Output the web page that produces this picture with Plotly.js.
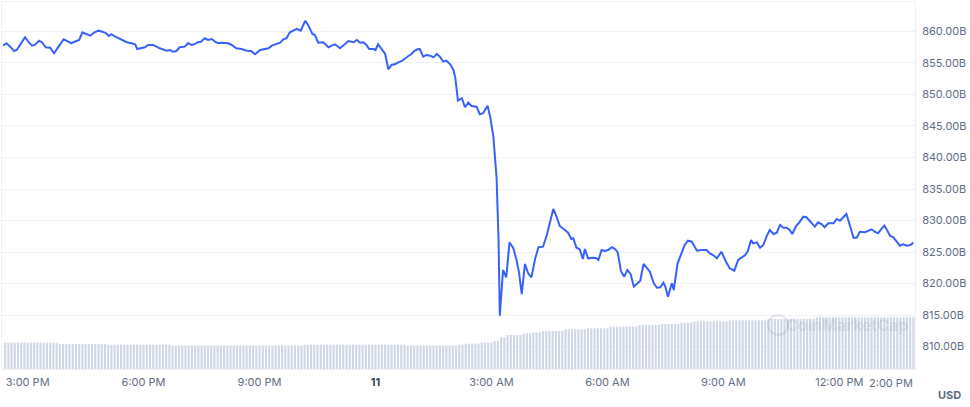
<!DOCTYPE html>
<html>
<head>
<meta charset="utf-8">
<script src="https://cdn.plot.ly/plotly-3.0.1.min.js"></script>
<style>
html,body{margin:0;padding:0;background:#fff;}
#chart{width:970px;height:407px;}
</style>
</head>
<body>
<div id="chart"></div>
<script>
// Market cap (billions USD)
const timesDay10 = ['14:22','14:27','14:33','14:39','14:43','14:49','14:56','15:01','15:07','15:11','15:18','15:22','15:28','15:35','15:41','15:48','15:56','16:03','16:08','16:13','16:20','16:25','16:31','16:37','16:43','16:50','16:56','17:02','17:06','17:10','17:16','17:21','17:28','17:34','17:41','17:47','17:50','17:57','18:02','18:07','18:15','18:20','18:25','18:36','18:41','18:45','18:51','18:56','19:04','19:09','19:15','19:20','19:24','19:29','19:35','19:40','19:46','19:51','19:56','20:01','20:11','20:17','20:24','20:32','20:40','20:47','20:53','21:01','21:08','21:14','21:19','21:27','21:32','21:37','21:42','21:47','21:52','21:58','22:04','22:11','22:16','22:22','22:26','22:31','22:39','22:47','22:52','22:57','23:05','23:13','23:18','23:26','23:31','23:36','23:41','23:46','23:50','23:57'];
const valuesDay10 = [857.75,858.13,857.59,856.90,857.06,857.97,859.08,858.38,857.75,857.86,858.54,858.29,857.49,857.43,856.54,857.59,858.76,858.38,858.13,858.38,858.65,859.87,859.60,859.33,859.81,860.13,859.97,859.71,859.29,859.56,859.17,858.92,858.49,858.29,858.13,857.97,857.22,857.43,857.49,857.86,857.86,857.59,857.33,856.95,857.06,856.79,856.90,857.49,857.59,858.13,857.86,858.02,858.29,858.38,858.92,858.65,858.81,858.38,858.13,858.22,858.13,857.86,857.33,857.22,856.95,856.90,856.38,857.06,857.22,857.33,857.75,857.97,858.22,858.76,858.92,859.87,860.08,860.40,860.13,861.71,860.92,859.60,859.44,858.22,858.29,857.49,857.75,857.97,857.33,858.13,858.49,858.29,858.65,858.22,858.29,857.86,857.22,857.22];

const timesDay11 = ['00:00','00:04','00:10','00:15','00:20','00:25','00:31','00:35','00:41','00:46','00:51','00:56','01:00','01:05','01:09','01:14','01:19','01:25','01:30','01:35','01:40','01:45','01:50','01:56','02:01','02:04','02:06','02:08','02:14','02:19','02:24','02:29','02:37','02:42','02:47','02:54','02:58','03:03','03:08','03:11','03:13','03:18','03:23','03:28','03:34','03:39','03:43','03:47','03:52','03:57','04:02','04:08','04:13','04:20','04:26','04:31','04:36','04:41','04:46','04:54','04:59','05:04','05:07','05:12','05:17','05:22','05:25','05:30','05:38','05:43','05:46','05:51','05:56','06:01','06:07','06:12','06:16','06:21','06:26','06:31','06:36','06:41','06:46','06:51','06:56','07:01','07:06','07:12','07:17','07:22','07:27','07:30','07:34','07:40','07:43','07:49','07:55','08:00','08:05','08:11','08:19','08:26','08:34','08:39','08:44','08:50','08:57','09:04','09:10','09:17','09:23','09:29','09:34','09:38','09:43','09:46','09:52','09:57','10:02','10:07','10:12','10:18','10:23','10:28','10:33','10:38','10:43','10:47','10:53','10:58','11:04','11:09','11:14','11:22','11:27','11:33','11:37','11:43','11:51','11:56','12:01','12:06','12:11','12:17','12:22','12:27','12:32','12:40','12:45','12:50','12:55','13:00','13:06','13:10','13:14','13:19','13:24','13:29','13:34','13:39','13:45','13:50','13:55'];
const valuesDay11 = [857.06,857.97,857.22,856.43,854.00,854.68,854.84,855.11,855.32,855.75,856.11,856.43,856.90,857.17,857.22,856.00,856.27,856.16,855.90,856.43,856.00,855.21,855.37,854.79,853.89,852.57,850.19,849.02,849.40,847.97,848.70,848.17,848.06,846.86,847.02,848.22,846.48,843.30,836.70,826.90,814.89,822.14,820.98,826.54,825.59,823.73,821.62,818.33,823.10,821.62,820.98,824.00,825.75,825.84,827.70,829.56,831.83,830.60,829.13,828.49,828.06,827.06,827.17,825.68,825.43,823.89,825.48,824.00,824.10,824.00,823.73,825.32,825.16,825.32,825.75,825.48,824.95,821.98,821.08,822.14,821.51,819.49,819.92,820.44,823.10,822.57,821.87,820.03,819.33,819.40,820.13,819.49,817.90,820.03,818.97,823.21,824.79,826.11,826.79,826.63,825.21,825.32,825.32,824.79,824.52,824.00,825.05,823.46,822.41,822.03,823.73,824.16,824.52,825.16,826.90,826.38,826.54,825.68,826.11,827.43,828.49,827.86,828.06,829.29,828.86,828.86,828.49,827.86,829.17,829.71,830.60,830.51,829.92,829.02,829.71,829.40,828.92,829.56,829.56,830.24,829.97,830.44,831.03,829.02,827.27,827.27,828.22,828.13,828.38,828.60,828.22,827.97,828.76,829.17,828.49,827.54,827.33,826.63,826.00,826.22,826.00,826.11,826.48];

// 24h volume bars (billions USD), one every 5 minutes from 14:25 on the 10th
const volumeStart = '2022-11-10T14:25:00';
const volumeValues = [
28.7,28.7,28.7,28.7,28.7,28.7,28.7,28.7,28.7,28.7,28.7,28.7,28.7,28.7,28.7,28.7,28.7,
27.2,27.2,27.2,27.2,27.2,27.2,27.2,27.2,27.2,27.2,27.2,27.2,27.2,27.2,27.2,
26.5,26.5,26.5,26.5,26.5,26.5,26.5,26.5,26.5,26.5,26.5,26.5,26.5,26.5,26.5,26.5,26.5,26.5,26.5,26.5,
25.4,25.4,25.4,25.4,25.4,25.4,25.4,25.4,25.4,25.4,25.4,25.4,25.4,25.4,25.4,25.4,25.4,25.4,25.4,25.4,
25.4,25.4,25.4,25.4,25.4,25.4,25.4,25.4,25.4,25.4,25.4,25.4,25.4,25.4,25.4,25.4,25.4,25.4,25.4,25.4,25.4,
26.5,26.5,26.5,26.5,26.5,26.5,26.5,26.5,26.5,26.5,26.5,26.5,26.5,26.5,26.5,26.5,
26.5,26.5,26.5,26.5,26.5,26.5,26.5,26.5,26.5,26.5,26.5,26.5,26.5,26.5,26.5,26.5,
25.4,25.4,25.4,25.4,25.4,25.4,25.4,25.4,25.4,25.4,25.4,25.4,25.4,25.4,25.4,25.4,
26.5,26.5,
27.6,27.6,27.6,27.6,27.6,
28.7,28.7,28.7,28.7,
30.5,30.8,
34.6,34.6,
37.1,37.1,37.1,37.1,37.1,
38.9,38.9,38.9,
40.0,40.0,40.0,
41.4,41.4,41.4,41.4,41.4,41.4,41.4,
43.3,43.3,43.3,43.3,43.3,43.3,43.3,
44.4,44.4,44.4,44.4,44.4,44.4,44.4,
46.1,46.1,46.1,46.1,46.1,46.1,46.1,46.1,46.1,
48.0,48.0,48.0,48.0,48.0,48.0,48.0,
49.1,49.1,49.1,49.1,49.1,49.1,
50.5,50.5,50.5,50.5,
52.0,52.0,52.0,52.0,52.0,52.0,52.0,52.0,52.0,52.0,52.0,
53.1,53.1,53.1,53.1,53.1,53.1,53.1,53.1,53.1,53.1,53.1,53.1,
54.5,54.5,54.5,54.5,54.5,54.5,54.5,54.5,54.5,54.5,54.5,54.5,54.5,54.5,54.5,
56.4,56.4,56.4,56.4,56.4,56.4,56.4,56.4,56.4,56.4,56.4,56.4,56.4,56.4,56.4,56.4,
56.4,56.4,56.4,56.4,56.4,56.4,56.4,56.4,56.4,56.4,56.4,56.4,56.4,56.4,56.4
];

const tickTimes = ['2022-11-10 15:00','2022-11-10 18:00','2022-11-10 21:00','2022-11-11 00:00','2022-11-11 03:00','2022-11-11 06:00','2022-11-11 09:00','2022-11-11 12:00'];
const tickLabels = ['3:00 PM','6:00 PM','9:00 PM','<b style="color:#3a4356">11</b>','3:00 AM','6:00 AM','9:00 AM','12:00 PM'];
const lastTickLabel = '2:00 PM';
const priceTicks = [810,815,820,825,830,835,840,845,850,855,860];
const priceTickLabels = ['810.00B','815.00B','820.00B','825.00B','830.00B','835.00B','840.00B','845.00B','850.00B','855.00B','860.00B'];

// build x values
const priceX = timesDay10.map(t => '2022-11-10 ' + t).concat(timesDay11.map(t => '2022-11-11 ' + t));
const priceY = valuesDay10.concat(valuesDay11);

function pad(n){return (n<10?'0':'')+n;}
const startMs = Date.parse(volumeStart + 'Z');
const volumeX = volumeValues.map((v,i) => {
  const d = new Date(startMs + i*5*60*1000);
  return d.getUTCFullYear()+'-'+pad(d.getUTCMonth()+1)+'-'+pad(d.getUTCDate())+' '+pad(d.getUTCHours())+':'+pad(d.getUTCMinutes());
});

const grey = '#616e85';
const gridc = '#eff2f5';

const traces = [
  {
    type:'bar', x: volumeX, y: volumeValues, yaxis:'y2',
    marker:{color:'#cfd6e4', line:{width:0}},
    hoverinfo:'skip'
  },
  {
    type:'scatter', mode:'lines', x: priceX, y: priceY,
    line:{color:'#3861fb', width:2, shape:'linear'},
    hoverinfo:'skip'
  }
];

const layout = {
  width:970, height:407,
  margin:{l:2, r:55, t:2, b:38},
  paper_bgcolor:'#fff', plot_bgcolor:'#fff',
  showlegend:false,
  bargap:0.35,
  font:{family:'Inter, "Noto Sans", sans-serif', size:11, color:grey},
  xaxis:{
    type:'date',
    range:['2022-11-10 14:20:12','2022-11-11 13:57:30'],
    tickvals: tickTimes, ticktext: tickLabels,
    showgrid:false, zeroline:false,
    showline:true, linecolor:gridc, linewidth:1, mirror:true,
    ticks:'', tickfont:{size:11, color:grey},
    ticklabelstandoff:3,
    fixedrange:true
  },
  yaxis:{
    side:'right',
    range:[806.43, 864.68],
    tickvals: priceTicks, ticktext: priceTickLabels,
    showgrid:true, gridcolor:gridc, gridwidth:1,
    zeroline:false, showline:true, linecolor:gridc, linewidth:1, mirror:true,
    ticks:'', tickfont:{size:11, color:grey},
    ticklabelstandoff:4
  },
  yaxis2:{
    overlaying:'y', side:'left', range:[0,400],
    showgrid:false, zeroline:false, showticklabels:false, showline:false
  },
  annotations:[
    {xref:'paper', yref:'paper', x:1, y:-0.014, xanchor:'right', yanchor:'top',
     text:lastTickLabel, showarrow:false, font:{size:11, color:grey}},
    {xref:'paper', yref:'paper', x:1.038, y:-0.071, xanchor:'center', yanchor:'middle',
     text:'<b>USD</b>', showarrow:false, font:{size:11, color:grey}},
    {xref:'paper', yref:'paper', x:0.926, y:0.12, xanchor:'center', yanchor:'middle',
     text:'<b>CoinMarketCap</b>', showarrow:false, font:{size:16, color:'rgba(140,150,170,0.2)'}}
  ],
  shapes:[
    {type:'circle', xref:'paper', yref:'paper', x0:0.839, x1:0.861, y0:0.093, y1:0.147,
     line:{color:'rgba(140,150,170,0.22)', width:2}}
  ]
};

Plotly.newPlot('chart', traces, layout, {displayModeBar:false, staticPlot:true});
</script>
</body>
</html>
